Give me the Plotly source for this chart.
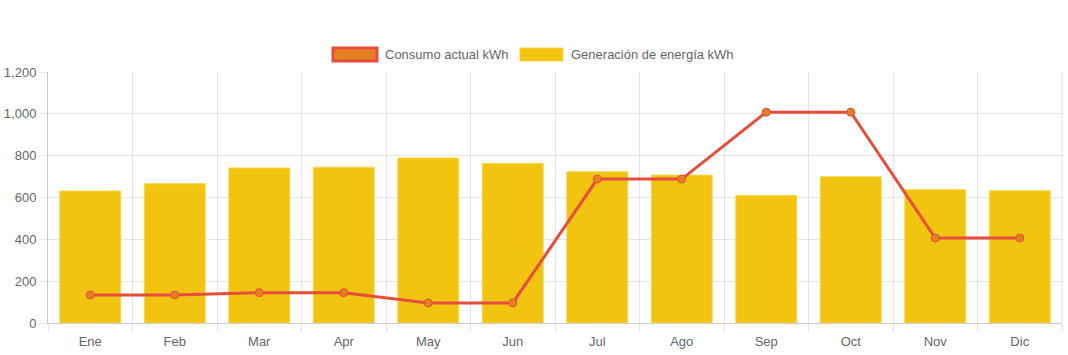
import plotly.graph_objects as go

months = ["Ene", "Feb", "Mar", "Apr", "May", "Jun", "Jul", "Ago", "Sep", "Oct", "Nov", "Dic"]
generacion = [631, 666, 741, 745, 789, 763, 723, 707, 610, 699, 637, 632]
consumo = [134, 134, 145, 145, 96, 96, 688, 688, 1008, 1008, 406, 406]
y_ticks = [0, 200, 400, 600, 800, 1000, 1200]
legend_labels = ["Consumo actual kWh", "Generación de energía kWh"]

FONT = "Liberation Sans, Arial, Helvetica, sans-serif"
GRID = "rgba(0,0,0,0.1)"
TXT = "#666666"
FS = 13

L, R, T, B = 48, 6, 72, 32
PW, PH = 1068 - L - R, 355 - T - B


def px_x(px):
    return (px - L) / PW


def px_y(py):
    return (355 - B - py) / PH


fig = go.Figure()
fig.add_trace(go.Bar(
    x=months, y=generacion, name=legend_labels[1],
    marker=dict(color="#f1c40f", line=dict(color="#f5d54a", width=1)),
    showlegend=False,
))
fig.add_trace(go.Scatter(
    x=months, y=consumo, name=legend_labels[0], mode="lines+markers",
    line=dict(color="#e74c3c", width=3),
    marker=dict(size=8, color="#e67e22", line=dict(color="#e74c3c", width=1)),
    showlegend=False,
))

# Chart.js-like legend (boxes + text)
shapes = [
    dict(type="rect", xref="paper", yref="paper", x0=px_x(333), x1=px_x(377),
         y0=px_y(61), y1=px_y(48),
         fillcolor="#e67e22", line=dict(color="#e74c3c", width=3)),
    dict(type="rect", xref="paper", yref="paper", x0=px_x(520), x1=px_x(563),
         y0=px_y(61), y1=px_y(48),
         fillcolor="#f1c40f", line=dict(color="#f5d54a", width=1)),
    dict(type="line", xref="paper", yref="paper", x0=1, x1=1, y0=0, y1=1,
         line=dict(color=GRID, width=1)),
]
annotations = [
    dict(text=legend_labels[0], xref="paper", yref="paper", x=px_x(383),
         y=px_y(54.5), xanchor="left", yanchor="middle", showarrow=False,
         font=dict(family=FONT, size=FS, color=TXT)),
    dict(text=legend_labels[1], xref="paper", yref="paper", x=px_x(569),
         y=px_y(54.5), xanchor="left", yanchor="middle", showarrow=False,
         font=dict(family=FONT, size=FS, color=TXT)),
]

fig.update_layout(
    width=1068, height=355,
    margin=dict(l=L, r=R, t=T, b=B, autoexpand=False),
    paper_bgcolor="white", plot_bgcolor="white",
    barmode="overlay", bargap=0.28,
    font=dict(family=FONT, size=FS, color=TXT),
    shapes=shapes, annotations=annotations,
    showlegend=False,
)
fig.update_xaxes(
    type="category", range=[-0.5, len(months) - 0.5],
    tickson="boundaries", ticks="outside", ticklen=8, tickcolor=GRID,
    ticklabelstandoff=6,
    showgrid=True, gridcolor=GRID, gridwidth=1, automargin=False,
    showline=True, linecolor="rgba(0,0,0,0.2)", mirror=False,
    tickfont=dict(family=FONT, size=FS, color=TXT),
)
fig.update_yaxes(
    range=[0, 1200], tickvals=y_ticks, tickformat=",", ticks="outside", ticklen=8, tickcolor=GRID,
    showgrid=True, gridcolor=GRID, gridwidth=1, zeroline=False, automargin=False,
    showline=True, linecolor="rgba(0,0,0,0.2)",
    tickfont=dict(family=FONT, size=FS, color=TXT),
)

fig.write_html(
    "out.html",
    config={"displayModeBar": False},
    post_script="document.body.style.margin='0';document.body.style.overflow='hidden';"
                "document.documentElement.style.overflow='hidden';",
)
